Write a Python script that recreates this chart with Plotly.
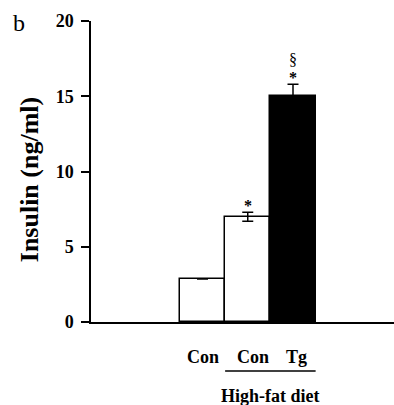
import plotly.graph_objects as go

groups = ["Con", "Con", "Tg"]
insulin = [2.85, 7.0, 15.0]
sem = [None, 0.3, 0.8]
marks = ["", "*", "*"]
extra_marks = ["", "", "§"]
fills = ["white", "white", "black"]
yticks = [0, 5, 10, 15, 20]
diet_label = "High-fat diet"
panel = "b"
ytitle = "Insulin (ng/ml)"

xpos = list(range(len(groups)))
FONT = "Liberation Serif"

fig = go.Figure()
fig.add_trace(go.Bar(
    x=xpos, y=insulin, width=1.0,
    marker=dict(color=fills, line=dict(color="black", width=1.5)),
    error_y=dict(type="data", array=sem, visible=True, color="black",
                 thickness=1.5, width=5.5),
    showlegend=False,
))

annotations = []
for i, (v, e, m, m2) in enumerate(zip(insulin, sem, marks, extra_marks)):
    top = v + (e or 0)
    if m:
        annotations.append(dict(x=i, y=top, xref="x", yref="y", text=f"<b>{m}</b>",
                                showarrow=False, yanchor="bottom", yshift=-4,
                                font=dict(family=FONT, size=16, color="black")))
    if m2:
        annotations.append(dict(x=i, y=top, xref="x", yref="y", text=m2,
                                showarrow=False, yanchor="bottom", yshift=14,
                                font=dict(family=FONT, size=16, color="black")))

label_dx = [0, 0.12, 0.07]
for i, g in enumerate(groups):
    annotations.append(dict(x=i + label_dx[i], y=0, xref="x", yref="paper", text=f"<b>{g}</b>",
                            showarrow=False, yanchor="middle", yshift=-35,
                            font=dict(family=FONT, size=18, color="black")))
annotations.append(dict(x=1.5, y=0, xref="x", yref="paper", text=f"<b>{diet_label}</b>",
                        showarrow=False, yanchor="middle", yshift=-74,
                        font=dict(family=FONT, size=18, color="black")))
annotations.append(dict(x=0, y=1, xref="paper", yref="paper", text=panel,
                        showarrow=False, xanchor="left", yanchor="top",
                        xshift=-80, yshift=13,
                        font=dict(family=FONT, size=24, color="black")))
annotations.append(dict(x=0, y=0.471, xref="paper", yref="paper", text=f"<b>{ytitle}</b>",
                        showarrow=False, xanchor="center", yanchor="middle",
                        textangle=-90, xshift=-62,
                        font=dict(family=FONT, size=26, color="black")))

fig.update_layout(
    width=394, height=405,
    margin=dict(l=91, r=0, t=21, b=83),
    paper_bgcolor="white", plot_bgcolor="white",
    bargap=0,
    annotations=annotations,
    shapes=[dict(type="line", xref="x", yref="paper", x0=0.5, x1=2.5,
                 y0=-0.1626, y1=-0.1626, line=dict(color="black", width=1.5))],
    xaxis=dict(range=[-2.464, 4.232], showgrid=False, zeroline=False,
               showline=True, linecolor="black", linewidth=1.5,
               showticklabels=False, ticks=""),
    yaxis=dict(range=[0, 20], tickvals=yticks, showgrid=False, zeroline=False,
               showline=True, linecolor="black", linewidth=1.5,
               ticks="outside", ticklen=8, tickwidth=1.5, tickcolor="black",
               ticklabelstandoff=4,
               tickfont=dict(family=FONT, size=18, color="black", weight="bold")),
)

fig.write_html("out.html", config={"displayModeBar": False},
               post_script="document.body.style.margin='0';document.body.style.overflow='hidden';")
